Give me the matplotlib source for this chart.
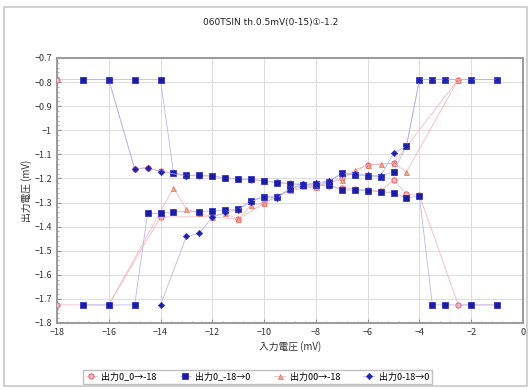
import numpy as np
import matplotlib
matplotlib.use("Agg")
import matplotlib.pyplot as plt
from matplotlib.patches import Rectangle
from matplotlib.ticker import MultipleLocator, FuncFormatter

plt.rcParams['font.family'] = ['Noto Sans CJK JP', 'DejaVu Sans']

nan = np.nan

# 出力0_0→-18 : falling branch, gap, rising branch
x1 = [-18, -16, -15, -14.5, -14, -13.5, -13, -12.5, -12, -11.5, -11, -10.5, -10, -9.5, -9, -8.5,
      -8, -7.5, -7, -6.5, -6, -5.5, -5, -4.5, -4, -2.5, -1,
      nan,
      -18, -16, -14, -12, -11, -10, -9, -8, -7, -6, -5, -2.5, -1]
y1 = [-0.79, -0.79, -1.16, -1.156, -1.17, -1.178, -1.188, -1.189, -1.192, -1.198, -1.204, -1.206, -1.211, -1.215, -1.221, -1.224,
      -1.228, -1.232, -1.238, -1.243, -1.248, -1.253, -1.206, -1.265, -1.27, -1.725, -1.725,
      nan,
      -1.725, -1.725, -1.36, -1.359, -1.37, -1.303, -1.25, -1.234, -1.2, -1.144, -1.137, -0.79, -0.79]

# 出力0_-18→0
x2 = [-17, -16, -15, -14, -13.5, -13, -12.5, -12, -11.5, -11, -10.5, -10, -9.5, -9, -8.5, -8,
      -7.5, -7, -6.5, -6, -5.5, -5, -4.5, -4, -3.5, -3, -2, -1,
      nan,
      -17, -16, -15, -14.5, -14, -13.5, -12.5, -12, -11.5, -11, -10.5, -10, -9.5, -9, -8.5, -8,
      -7.5, -7, -6.5, -6, -5.5, -5, -4.5, -4, -3.5, -3, -2, -1]
y2 = [-0.79, -0.79, -0.79, -0.79, -1.176, -1.187, -1.186, -1.19, -1.197, -1.203, -1.203, -1.21, -1.218, -1.222, -1.227, -1.229,
      -1.227, -1.248, -1.248, -1.251, -1.255, -1.259, -1.282, -1.273, -1.725, -1.725, -1.725, -1.725,
      nan,
      -1.725, -1.725, -1.725, -1.345, -1.345, -1.338, -1.338, -1.334, -1.331, -1.328, -1.292, -1.276, -1.276, -1.245, -1.226, -1.222,
      -1.215, -1.179, -1.186, -1.19, -1.193, -1.172, -1.065, -0.79, -0.79, -0.79, -0.79, -0.79]

# 出力00→-18
x3 = [-16, -13.5, -13, -12.5, -12, -11.5, -11, -10.5, -10, -9.5, -9, -8.5, -8, -7.5, -7, -6.5,
      -6, -5.5, -5, -4.5, -2.5]
y3 = [-1.725, -1.24, -1.328, -1.345, -1.359, -1.345, -1.37, -1.31, -1.303, -1.27, -1.25, -1.232, -1.234, -1.215, -1.205, -1.165,
      -1.144, -1.14, -1.137, -1.172, -0.79]

# 出力0-18→0
x4 = [-14, -13, -12.5, -12, -11.5, -11, -10.5, -10, -9.5, -9, -8.5, -8, -7.5, -7, -6.5, -6,
      -5.5, -5, -4.5, -4, -3.5, -3, -2, -1,
      nan,
      -16, -15, -14.5, -14, -13]
y4 = [-1.725, -1.44, -1.428, -1.36, -1.34, -1.33, -1.296, -1.276, -1.282, -1.24, -1.225, -1.22, -1.21, -1.18, -1.18, -1.185,
      -1.19, -1.096, -1.065, -0.79, -0.79, -0.79, -0.79, -0.79,
      nan,
      -0.79, -1.16, -1.155, -1.172, -1.19]

labels = ['出力0_0→-18', '出力0_-18→0', '出力00→-18', '出力0-18→0']

fig = plt.figure(figsize=(5.31, 3.89), dpi=100)
fig.patches.append(Rectangle((0.008, 0.008), 0.984, 0.975, transform=fig.transFigure,
                             fill=False, edgecolor='#c8c8c8', linewidth=1.2))
ax = fig.add_axes([0.1073, 0.1697, 0.8776, 0.6813])

red_line = '#f4b4bc'
blue_line = '#b4b4ec'
ax.plot(x1, y1, color=red_line, lw=0.55, marker='o', ms=3.8,
        mfc='#f4b8bc', mec='#e05060', mew=0.6, label=labels[0], zorder=3)
ax.plot(x2, y2, color=blue_line, lw=0.55, marker='s', ms=3.8,
        mfc='#1c1ca0', mec='#3434c4', mew=0.6, label=labels[1], zorder=4)
ax.plot(x3, y3, color=red_line, lw=0.55, marker='^', ms=3.6,
        mfc='#f0a890', mec='#e07060', mew=0.5, label=labels[2], zorder=3)
ax.plot(x4, y4, color=blue_line, lw=0.55, marker='D', ms=3.2,
        mfc='#2020a8', mec='#3434c4', mew=0.5, label=labels[3], zorder=4)

ax.set_xlim(-18, 0)
ax.set_ylim(-1.8, -0.7)
ax.xaxis.set_major_locator(MultipleLocator(2))
ax.xaxis.set_minor_locator(MultipleLocator(0.4))
ax.yaxis.set_major_locator(MultipleLocator(0.1))
ax.yaxis.set_minor_locator(MultipleLocator(0.02))
ax.yaxis.set_major_formatter(FuncFormatter(lambda v, p: f'{v:g}'.replace('-', '\u2212')))
ax.xaxis.set_major_formatter(FuncFormatter(lambda v, p: f'{v:g}'.replace('-', '\u2212')))
ax.tick_params(axis='both', which='major', labelsize=6.5, length=3, direction='in',
               color='#909090', labelcolor='#333333')
ax.tick_params(axis='both', which='minor', length=1.5, direction='in', color='#a0a0a0')
ax.grid(True, which='major', color='#dcdcdc', lw=0.7)
ax.set_axisbelow(True)
for s in ax.spines.values():
    s.set_color('#9a9a9a')
    s.set_linewidth(1.4)

ax.set_xlabel('入力電圧 (mV)', fontsize=7, color='#333333', labelpad=3)
ax.set_ylabel('出力電圧 (mV)', fontsize=7, color='#333333', labelpad=2)
fig.text(0.51, 0.943, '060TSIN th.0.5mV(0-15)①-1.2', ha='center', va='center',
         fontsize=6.5, color='#222222', family=['DejaVu Sans', 'Noto Sans CJK JP'])

fig.legend(loc='center', bbox_to_anchor=(0.485, 0.031), ncol=4, fontsize=6.5,
           frameon=True, edgecolor='#b0b0b0', fancybox=False, handlelength=1.2,
           handletextpad=0.5, columnspacing=2.6, borderpad=0.3)

fig.savefig('out.png', dpi=100)
